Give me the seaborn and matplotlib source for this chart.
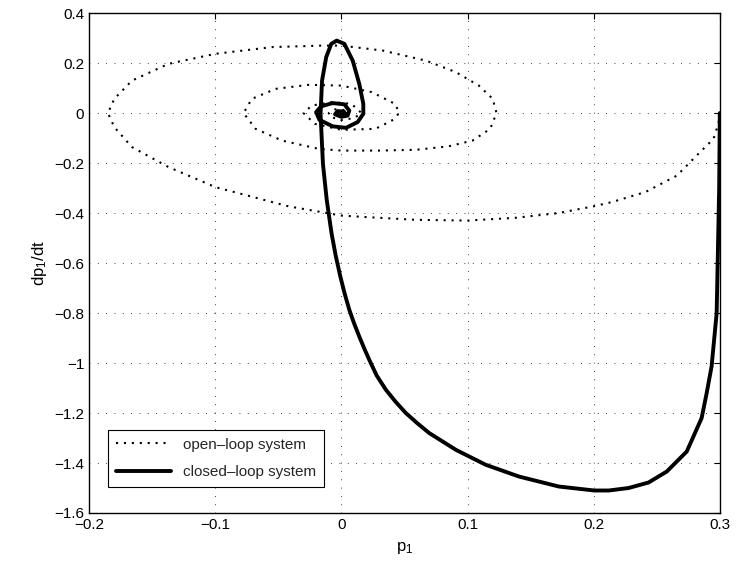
import matplotlib
matplotlib.use("Agg")
import matplotlib.pyplot as plt
import seaborn as sns
import pandas as pd
import numpy as np

# open-loop trajectory (p1, dp1/dt)
open_p1 = [0.300, 0.299, 0.295, 0.283, 0.266, 0.241, 0.2145, 0.200, 0.172, 0.138,
           0.100, 0.059, 0.0195, 0.000, -0.042, -0.100, -0.137, -0.166, -0.180, -0.185,
           -0.180, -0.166, -0.137, -0.100, -0.055, -0.0156, 0.000, 0.033, 0.067, 0.0907,
           0.109, 0.120, 0.123, 0.118, 0.104, 0.085, 0.059, 0.030, 0.000, -0.018,
           -0.047, -0.068, -0.0775, -0.071, -0.052, -0.026, 0.000, 0.024, 0.0425, 0.046,
           0.040, 0.027, 0.000, -0.021, -0.030, -0.0235, -0.0077, 0.008, 0.016, 0.010,
           0.000, -0.009, -0.010, -0.005, 0.003, 0.005, 0.000, -0.003, 0.000]
open_dp1 = [0.000, -0.040, -0.103, -0.163, -0.250, -0.316, -0.356, -0.373, -0.400, -0.419,
            -0.430, -0.427, -0.416, -0.410, -0.373, -0.296, -0.216, -0.136, -0.056, 0.000,
            0.057, 0.130, 0.197, 0.237, 0.264, 0.270, 0.270, 0.250, 0.210, 0.164,
            0.110, 0.057, 0.000, -0.063, -0.110, -0.133, -0.147, -0.150, -0.150, -0.143,
            -0.110, -0.063, 0.000, 0.057, 0.097, 0.113, 0.110, 0.084, 0.037, 0.000,
            -0.030, -0.063, -0.067, -0.043, 0.000, 0.030, 0.044, 0.037, 0.000, -0.020,
            -0.028, -0.015, 0.000, 0.015, 0.012, 0.000, -0.008, 0.000, 0.000]

# closed-loop trajectory
closed_p1 = [0.300, 0.2995, 0.2985, 0.2975, 0.2935, 0.2896, 0.2856, 0.2738, 0.258, 0.2435,
             0.2277, 0.212, 0.2005, 0.1723, 0.1407, 0.1144, 0.0907, 0.0696, 0.060, 0.0511,
             0.043, 0.0353, 0.028, 0.0221, 0.018, 0.0142, 0.010, 0.0063, 0.0025, -0.0008,
             -0.0045, -0.0078, -0.0116, -0.0146, -0.0165, -0.0153, -0.012,
             -0.008, -0.0037, 0.0024, 0.009, 0.0142, 0.0174, 0.0174, 0.0129, 0.0037, -0.0069,
             -0.0174, -0.020, -0.016, -0.0069, 0.0024, 0.0063, 0.005, 0.000, -0.005, -0.003,
             0.002, 0.003, 0.000, 0.000]
closed_dp1 = [0.000, -0.300, -0.550, -0.800, -1.013, -1.120, -1.220, -1.354, -1.434, -1.478,
              -1.500, -1.510, -1.510, -1.494, -1.454, -1.407, -1.347, -1.280, -1.240, -1.200,
              -1.155, -1.107, -1.050, -0.987, -0.940, -0.894, -0.840, -0.787, -0.720, -0.654,
              -0.570, -0.480, -0.347, -0.203, -0.003, 0.130, 0.224,
              0.277, 0.290, 0.277, 0.210, 0.117, 0.037, -0.003, -0.036, -0.059, -0.053,
              -0.027, 0.004, 0.027, 0.040, 0.035, 0.010, -0.010, -0.015, -0.005, 0.008,
              0.006, -0.002, -0.004, 0.000]

x_ticks = [-0.2, -0.1, 0, 0.1, 0.2, 0.3]
y_ticks = [0.4, 0.2, 0, -0.2, -0.4, -0.6, -0.8, -1, -1.2, -1.4, -1.6]

open_df = pd.DataFrame({"p1": open_p1, "dp1": open_dp1})
closed_df = pd.DataFrame({"p1": closed_p1, "dp1": closed_dp1})

sns.set_theme(style="white")
plt.rcParams["font.family"] = ["Liberation Sans", "DejaVu Sans"]
plt.rcParams["mathtext.default"] = "regular"

fig, ax = plt.subplots(figsize=(7.36, 5.70), dpi=100)
fig.subplots_adjust(left=0.121, right=0.978, bottom=0.1, top=0.977)

sns.lineplot(data=open_df, x="p1", y="dp1", sort=False, estimator=None, ax=ax,
             color="black", linestyle=(0, (1, 2.8)), linewidth=1.5,
             label="open\u2013loop system")
sns.lineplot(data=closed_df, x="p1", y="dp1", sort=False, estimator=None, ax=ax,
             color="black", linestyle="-", linewidth=2.8, label="closed\u2013loop system")

ax.set_xlim(-0.2, 0.3)
ax.set_ylim(-1.6, 0.4)
ax.set_xticks(x_ticks)
ax.set_yticks(y_ticks)
ax.set_xticklabels(["\u22120.2", "\u22120.1", "0", "0.1", "0.2", "0.3"])
ax.set_yticklabels(["0.4", "0.2", "0", "\u22120.2", "\u22120.4", "\u22120.6", "\u22120.8",
                    "\u22121", "\u22121.2", "\u22121.4", "\u22121.6"])
ax.grid(True, color="black", linestyle=(0, (1, 9)), linewidth=0.6)
ax.tick_params(direction="in", top=True, right=True, length=4, width=0.8,
               labelsize=11, colors="black")
for s in ax.spines.values():
    s.set_color("black")
    s.set_linewidth(1.0)

ax.set_xlabel("p$_1$", fontsize=12, color="black", labelpad=6)
ax.set_ylabel("dp$_1$/dt", fontsize=12, color="black")

leg = ax.legend(loc="lower left", bbox_to_anchor=(0.03, 0.052), borderaxespad=0,
                fontsize=11, frameon=True, fancybox=False, framealpha=1,
                edgecolor="black", handlelength=3.6, borderpad=0.5, labelspacing=0.9)
leg.get_frame().set_linewidth(0.8)

fig.savefig("out.png", dpi=100)
